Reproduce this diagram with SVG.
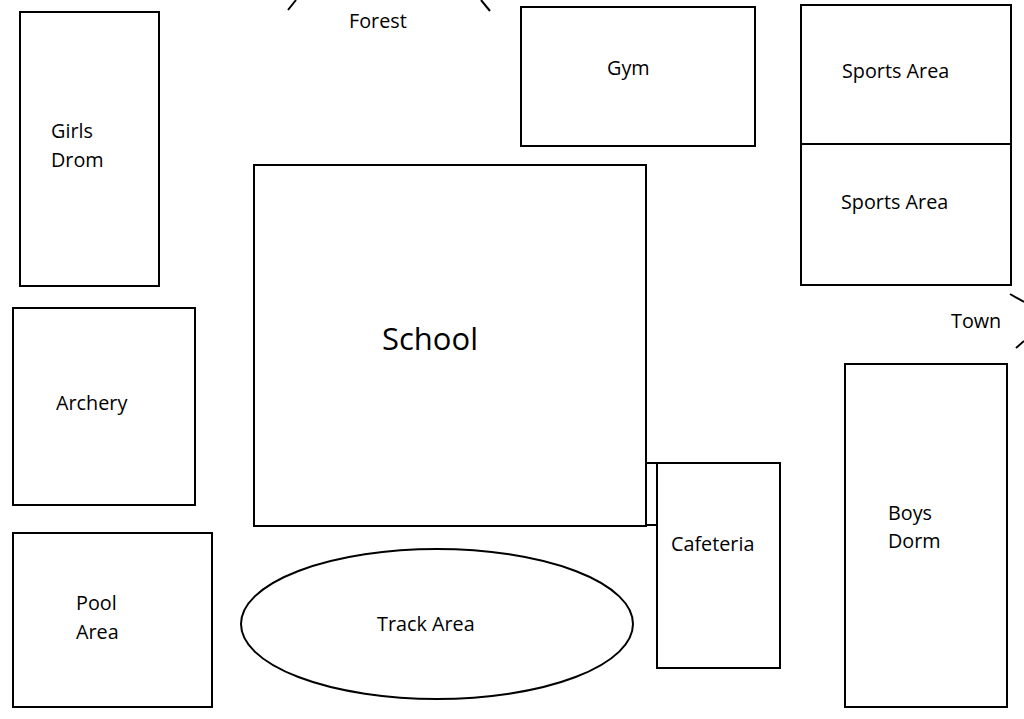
<svg xmlns="http://www.w3.org/2000/svg" width="1024" height="719" viewBox="0 0 1024 719">
<style>
.b{fill:#fff;stroke:#000;stroke-width:2}
.l{stroke:#000;stroke-width:2;fill:none}
text{font-family:"Open Sans","Liberation Sans",sans-serif;font-size:19.8px;fill:#000}
</style>
<rect width="1024" height="719" fill="#fff"/>
<g id="forest"><line class="l" x1="296" y1="0" x2="288" y2="10"/><line class="l" x1="481" y1="0" x2="490" y2="11"/><text x="349" y="28">Forest</text></g>
<g id="town"><line class="l" x1="1010" y1="294" x2="1024" y2="302"/><line class="l" x1="1016" y1="348" x2="1024" y2="341"/><text x="951" y="328">Town</text></g>
<g id="girls"><rect class="b" x="20" y="12" width="139" height="274"/><text x="51" y="138">Girls</text><text x="51" y="167">Drom</text></g>
<g id="archery"><rect class="b" x="13" y="308" width="182" height="197"/><text x="56" y="410">Archery</text></g>
<g id="pool"><rect class="b" x="13" y="533" width="199" height="174"/><text x="76" y="610">Pool</text><text x="76" y="639">Area</text></g>
<g id="gym"><rect class="b" x="521" y="7" width="234" height="139"/><text x="607" y="75">Gym</text></g>
<g id="sports1"><rect class="b" x="801" y="5" width="210" height="139"/><text x="842" y="78">Sports Area</text></g>
<g id="sports2"><rect class="b" x="801" y="144" width="210" height="141"/><text x="841" y="209">Sports Area</text></g>
<g id="school"><rect class="b" x="254" y="165" width="392" height="361"/><text x="382" y="350" style="font-size:31px">School</text></g>
<g id="connectors"><rect class="b" x="646" y="463" width="11" height="62"/></g>
<g id="cafeteria"><rect class="b" x="657" y="463" width="123" height="205"/><text x="671" y="551">Cafeteria</text></g>
<g id="boys"><rect class="b" x="845" y="364" width="162" height="343"/><text x="888" y="520">Boys</text><text x="888" y="548">Dorm</text></g>
<g id="track"><ellipse class="b" cx="437" cy="624" rx="196" ry="75"/><text x="377" y="631">Track Area</text></g>
</svg>
